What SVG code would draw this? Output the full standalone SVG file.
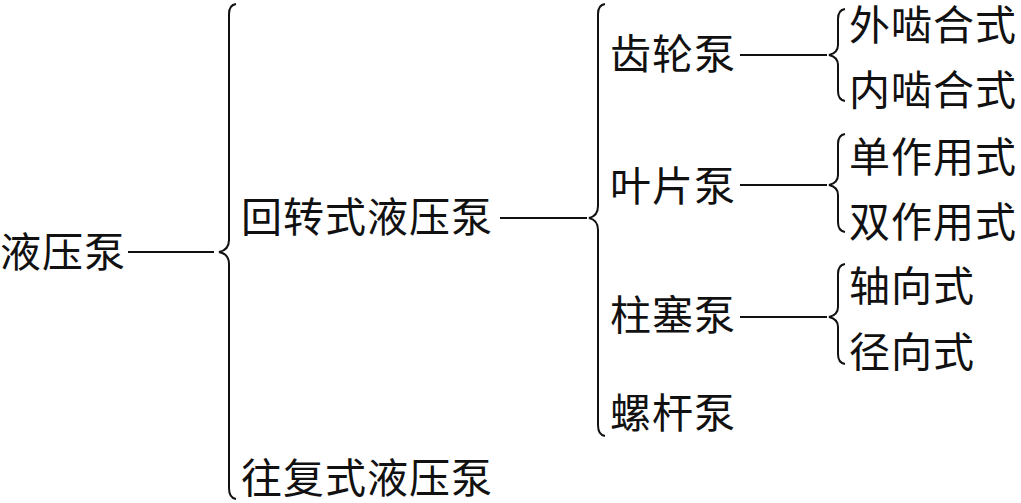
<svg xmlns="http://www.w3.org/2000/svg" width="1021" height="503" viewBox="0 0 1021 503">
<style>
text{font-family:"Noto Sans CJK SC","Liberation Serif",serif;font-size:41px;letter-spacing:1px;fill:#111;dominant-baseline:central}
.c{stroke:#111;stroke-width:2;fill:none}
</style>
<rect width="1021" height="503" fill="#fff"/>
<g id="connectors">
<line class="c" x1="128" y1="252" x2="214" y2="252"/>
<line class="c" x1="500" y1="218" x2="587" y2="218"/>
<line class="c" x1="740" y1="55" x2="827" y2="55"/>
<line class="c" x1="740" y1="185" x2="827" y2="185"/>
<line class="c" x1="740" y1="317" x2="827" y2="317"/>
<path class="c" d="M236,4 Q229,5 229,14 L229,240 Q229,250 219,252 Q229,254 229,264 L229,488 Q229,498 236,499"/>
<path class="c" d="M605,4 Q598,5 598,14 L598,206 Q598,216 589,218 Q598,220 598,230 L598,425 Q598,435 605,436"/>
<path class="c" d="M845,9 Q838,10 838,19 L838,45 Q838,53 829,55 Q838,57 838,65 L838,91 Q838,100 845,101"/>
<path class="c" d="M845,134 Q838,135 838,144 L838,175 Q838,183 829,185 Q838,187 838,195 L838,222 Q838,231 845,232"/>
<path class="c" d="M845,264 Q838,265 838,274 L838,307 Q838,315 829,317 Q838,319 838,327 L838,354 Q838,363 845,364"/>
</g>
<g id="n-root"><text x="0" y="249">液压泵</text></g>
<g id="n-rotary"><text x="241" y="214">回转式液压泵</text></g>
<g id="n-recip"><text x="241" y="475">往复式液压泵</text></g>
<g id="n-gear"><text x="610" y="51">齿轮泵</text></g>
<g id="n-vane"><text x="610" y="183">叶片泵</text></g>
<g id="n-piston"><text x="610" y="312">柱塞泵</text></g>
<g id="n-screw"><text x="610" y="410">螺杆泵</text></g>
<g id="n-ext"><text x="849" y="22">外啮合式</text></g>
<g id="n-int"><text x="849" y="87">内啮合式</text></g>
<g id="n-single"><text x="849" y="154">单作用式</text></g>
<g id="n-double"><text x="849" y="219">双作用式</text></g>
<g id="n-axial"><text x="849" y="283">轴向式</text></g>
<g id="n-radial"><text x="849" y="349">径向式</text></g>
</svg>
